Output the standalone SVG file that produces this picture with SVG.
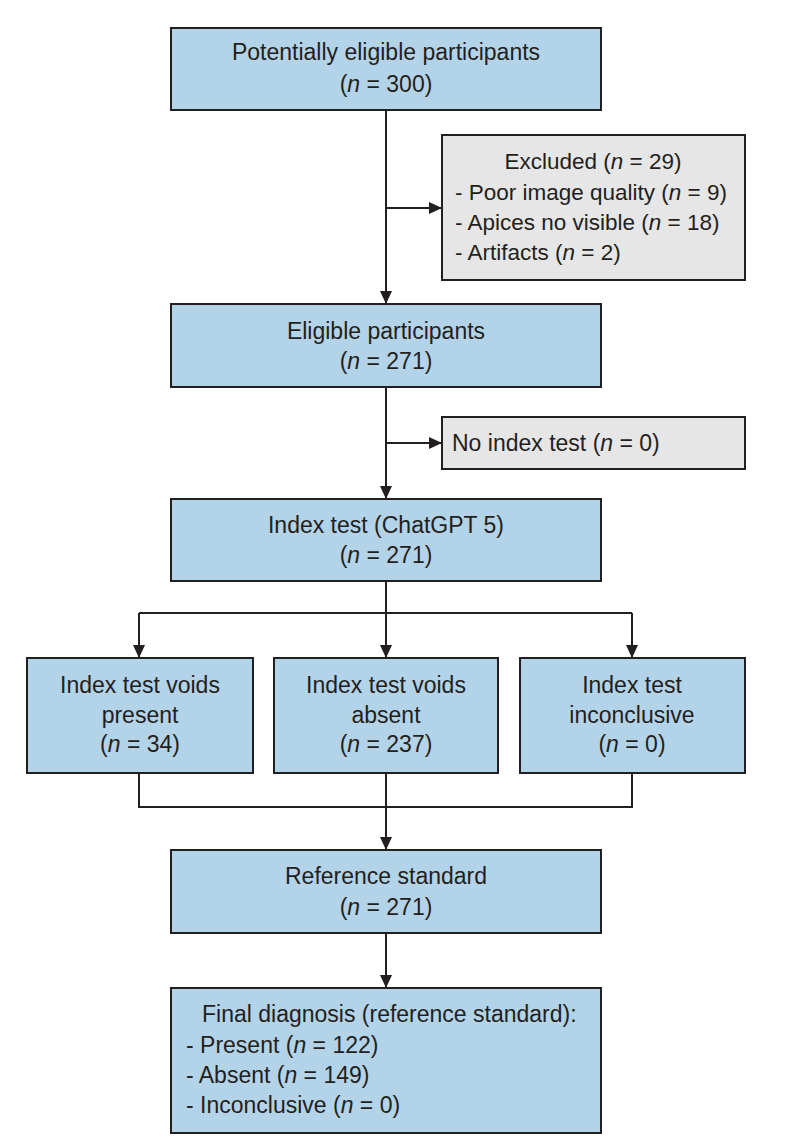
<svg xmlns="http://www.w3.org/2000/svg" width="786" height="1148" viewBox="0 0 786 1148">
<style>
.blue{fill:#b3d3e8;stroke:#231f20;stroke-width:2}
.gray{fill:#e6e6e6;stroke:#231f20;stroke-width:2}
text{font-family:"Liberation Sans",Arial,sans-serif;font-size:23px;fill:#231f20}
.c{text-anchor:middle}
.i{font-style:italic}
.s{font-size:22.5px}
.ln{fill:none;stroke:#231f20;stroke-width:2}
</style>
<defs>
<marker id="ah" markerUnits="userSpaceOnUse" markerWidth="13" markerHeight="12" refX="13" refY="6" orient="auto">
<path d="M0,0 L13,6 L0,12 z" fill="#231f20"/>
</marker>
</defs>
<rect width="786" height="1148" fill="#ffffff"/>
<g id="connectors">
<path class="ln" d="M386,110 V304" marker-end="url(#ah)"/>
<path class="ln" d="M386,208 H442" marker-end="url(#ah)"/>
<path class="ln" d="M386,387 V499" marker-end="url(#ah)"/>
<path class="ln" d="M386,443 H442" marker-end="url(#ah)"/>
<path class="ln" d="M386,581 V613 M139,613 H632"/>
<path class="ln" d="M139,613 V658" marker-end="url(#ah)"/>
<path class="ln" d="M386,613 V658" marker-end="url(#ah)"/>
<path class="ln" d="M632,613 V658" marker-end="url(#ah)"/>
<path class="ln" d="M139,773 V807 H632 V773"/>
<path class="ln" d="M386,773 V850" marker-end="url(#ah)"/>
<path class="ln" d="M386,933 V988" marker-end="url(#ah)"/>
</g>
<g id="potentially-eligible">
<rect class="blue" x="171" y="28" width="430" height="82"/>
<text class="c" x="386" y="60">Potentially eligible participants</text>
<text class="c" x="386" y="92">(<tspan class="i">n</tspan> = 300)</text>
</g>
<g id="excluded">
<rect class="gray" x="442" y="135" width="303" height="145"/>
<text class="c s" x="593" y="169">Excluded (<tspan class="i">n</tspan> = 29)</text>
<text class="s" x="455" y="200">- Poor image quality (<tspan class="i">n</tspan> = 9)</text>
<text class="s" x="455" y="230">- Apices no visible (<tspan class="i">n</tspan> = 18)</text>
<text class="s" x="455" y="260">- Artifacts (<tspan class="i">n</tspan> = 2)</text>
</g>
<g id="eligible">
<rect class="blue" x="171" y="304" width="430" height="83"/>
<text class="c" x="386" y="339">Eligible participants</text>
<text class="c" x="386" y="369">(<tspan class="i">n</tspan> = 271)</text>
</g>
<g id="no-index-test">
<rect class="gray" x="442" y="417" width="303" height="52"/>
<text x="452" y="451">No index test (<tspan class="i">n</tspan> = 0)</text>
</g>
<g id="index-test">
<rect class="blue" x="171" y="499" width="430" height="82"/>
<text class="c" x="386" y="533">Index test (ChatGPT 5)</text>
<text class="c" x="386" y="563">(<tspan class="i">n</tspan> = 271)</text>
</g>
<g id="voids-present">
<rect class="blue" x="27" y="658" width="226" height="115"/>
<text class="c" x="140" y="693">Index test voids</text>
<text class="c" x="140" y="723">present</text>
<text class="c" x="140" y="752">(<tspan class="i">n</tspan> = 34)</text>
</g>
<g id="voids-absent">
<rect class="blue" x="274" y="658" width="224" height="115"/>
<text class="c" x="386" y="693">Index test voids</text>
<text class="c" x="386" y="723">absent</text>
<text class="c" x="386" y="752">(<tspan class="i">n</tspan> = 237)</text>
</g>
<g id="inconclusive">
<rect class="blue" x="520" y="658" width="225" height="115"/>
<text class="c" x="632" y="693">Index test</text>
<text class="c" x="632" y="723">inconclusive</text>
<text class="c" x="632" y="752">(<tspan class="i">n</tspan> = 0)</text>
</g>
<g id="reference-standard">
<rect class="blue" x="171" y="850" width="430" height="83"/>
<text class="c" x="386" y="884">Reference standard</text>
<text class="c" x="386" y="915">(<tspan class="i">n</tspan> = 271)</text>
</g>
<g id="final-diagnosis">
<rect class="blue" x="171" y="988" width="430" height="145"/>
<text x="202" y="1022">Final diagnosis (reference standard):</text>
<text x="186" y="1053">- Present (<tspan class="i">n</tspan> = 122)</text>
<text x="186" y="1083">- Absent (<tspan class="i">n</tspan> = 149)</text>
<text x="186" y="1113">- Inconclusive (<tspan class="i">n</tspan> = 0)</text>
</g>
</svg>
